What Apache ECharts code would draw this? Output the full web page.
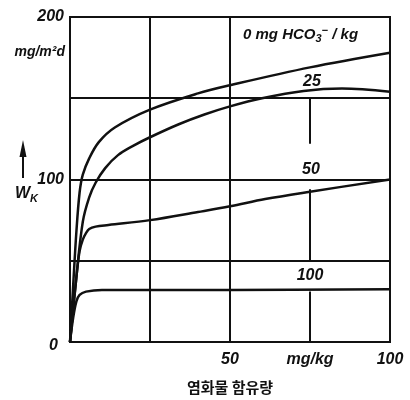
<!DOCTYPE html>
<html lang="ko">
<head>
<meta charset="UTF-8">
<title>염화물 함유량</title>
<style>
  html,body{margin:0;padding:0;background:#fff;}
  #main{width:410px;height:400px;}
</style>
</head>
<body>
<div id="main"></div>
<script src="https://cdn.jsdelivr.net/npm/echarts@6/dist/echarts.min.js"></script>
<script>
// x = chloride content (mg/kg), y = W_K (mg/m2d)
const curveNames = ['0', '25', '50', '100'];

const x0 = [0, 1, 2, 3, 4, 6, 9, 14, 25, 40, 50, 75, 100];
const y0 = [0, 35, 68, 92, 103, 113, 123, 132, 143, 153, 158, 169, 178];

const x25 = [0, 2, 4, 6, 8, 11, 15, 20, 25, 34, 42, 50, 60, 73, 85, 100];
const y25 = [0, 40, 74, 89, 98, 107, 115, 121, 126, 134, 140, 145, 150, 154.5, 156, 154];

const x50 = [0, 2, 3, 4, 5, 6, 8, 12, 25, 40, 50, 61, 75, 100];
const y50 = [0, 40, 56, 63, 67, 69.5, 71, 72, 75, 80, 83.5, 88, 92.5, 100];

const x100 = [0, 1, 2, 3, 5, 10, 20, 50, 100];
const y100 = [0, 15, 25, 29, 31, 32, 32, 32, 32.5];

const xTickValues = [50, 75, 100];
const xTickTexts = ['50', 'mg/kg', '100'];
const yTickValues = [0, 100, 200];
const yTickTexts = ['0', '100', '200'];

// vertical grid: full lines at 25 and 50, the 75 line is broken round the labels
const vFullLines = [25, 50];
const v75Pieces = [[150, 122], [94, 50], [31, 0]];

const ink = '#111';
const lab = 'bold italic 16px "Liberation Sans"';

function zip(xs, ys) {
  return xs.map((x, i) => [x, ys[i]]);
}

const chart = echarts.init(document.getElementById('main'));

const gridMarks = vFullLines.map(v => ({ xAxis: v }))
  .concat(v75Pieces.map(p => [{ coord: [75, p[0]] }, { coord: [75, p[1]] }]));

const curves = [zip(x0, y0), zip(x25, y25), zip(x50, y50), zip(x100, y100)];

const series = curves.map((d, i) => ({
  name: curveNames[i],
  type: 'line',
  data: d,
  smooth: 0.35,
  showSymbol: false,
  lineStyle: { color: ink, width: 2.5 },
  z: 5
}));

series[0].markLine = {
  silent: true,
  symbol: 'none',
  label: { show: false },
  lineStyle: { color: ink, width: 2, type: 'solid' },
  data: gridMarks,
  z: 1
};

const option = {
  animation: false,
  backgroundColor: '#fff',
  grid: {
    left: 70, right: 20, top: 17, bottom: 57,
    show: true, borderColor: ink, borderWidth: 2
  },
  xAxis: {
    type: 'value',
    min: 0, max: 100, interval: 25,
    axisLine: { show: true, lineStyle: { color: ink, width: 2 } },
    axisTick: { show: false },
    splitLine: { show: false },
    axisLabel: {
      margin: 10,
      color: ink,
      fontFamily: 'Liberation Sans',
      fontStyle: 'italic',
      fontWeight: 'bold',
      fontSize: 16,
      formatter: v => {
        const k = xTickValues.indexOf(v);
        return k < 0 ? '' : xTickTexts[k];
      }
    },
    name: '염화물 함유량',
    nameLocation: 'middle',
    nameGap: 38,
    nameTextStyle: {
      color: ink,
      fontFamily: 'Noto Sans CJK KR',
      fontWeight: 'bold',
      fontSize: 15
    }
  },
  yAxis: {
    type: 'value',
    min: 0, max: 200, interval: 50,
    axisLine: { show: true, lineStyle: { color: ink, width: 2 } },
    axisTick: { show: false },
    splitLine: { show: true, lineStyle: { color: ink, width: 2 } },
    axisLabel: {
      margin: 6,
      color: ink,
      fontFamily: 'Liberation Sans',
      fontStyle: 'italic',
      fontWeight: 'bold',
      fontSize: 16,
      formatter: v => {
        const k = yTickValues.indexOf(v);
        if (k < 0) return '';
        return v === 0 ? '{z|' + yTickTexts[k] + '}' : yTickTexts[k];
      },
      rich: {
        z: {
          fontFamily: 'Liberation Sans', fontStyle: 'italic', fontWeight: 'bold',
          fontSize: 16, color: ink, padding: [8, 6, 0, 0]
        }
      }
    }
  },
  graphic: [
    {
      type: 'text', left: 243, top: 25,
      style: {
        text: '0 mg HCO{sb|3}{sp|−} / kg',
        font: 'italic bold 15px "Liberation Sans"',
        fill: ink,
        rich: {
          sb: { font: 'italic bold 11px "Liberation Sans"', fill: ink, padding: [9, 0, 0, 0] },
          sp: { font: 'bold 11px "Liberation Sans"', fill: ink, padding: [0, 0, 8, 0] }
        }
      }
    },
    { type: 'text', style: { text: '25', x: 312, y: 82, font: lab, fill: ink, align: 'center', verticalAlign: 'middle', textAlign: 'center', textVerticalAlign: 'middle' } },
    { type: 'text', style: { text: '50', x: 311, y: 170, font: lab, fill: ink, align: 'center', verticalAlign: 'middle', textAlign: 'center', textVerticalAlign: 'middle' } },
    { type: 'text', style: { text: '100', x: 310, y: 276, font: lab, fill: ink, align: 'center', verticalAlign: 'middle', textAlign: 'center', textVerticalAlign: 'middle' } },
    { type: 'text', style: { text: 'mg/m²d', x: 65, y: 52, font: 'italic bold 14px "Liberation Sans"', fill: ink, align: 'right', verticalAlign: 'middle', textAlign: 'right', textVerticalAlign: 'middle' } },
    { type: 'line', shape: { x1: 23, y1: 150, x2: 23, y2: 178 }, style: { stroke: ink, lineWidth: 2 } },
    { type: 'polygon', shape: { points: [[23, 140], [19.5, 157], [26.5, 157]] }, style: { fill: ink } },
    {
      type: 'text', left: 15, top: 186,
      style: {
        text: 'W{k|K}',
        font: 'italic bold 16px "Liberation Sans"',
        fill: ink,
        rich: { k: { font: 'italic bold 11px "Liberation Sans"', fill: ink, padding: [10, 0, 0, 0] } }
      }
    }
  ],
  series: series
};

chart.setOption(option);
</script>
</body>
</html>
